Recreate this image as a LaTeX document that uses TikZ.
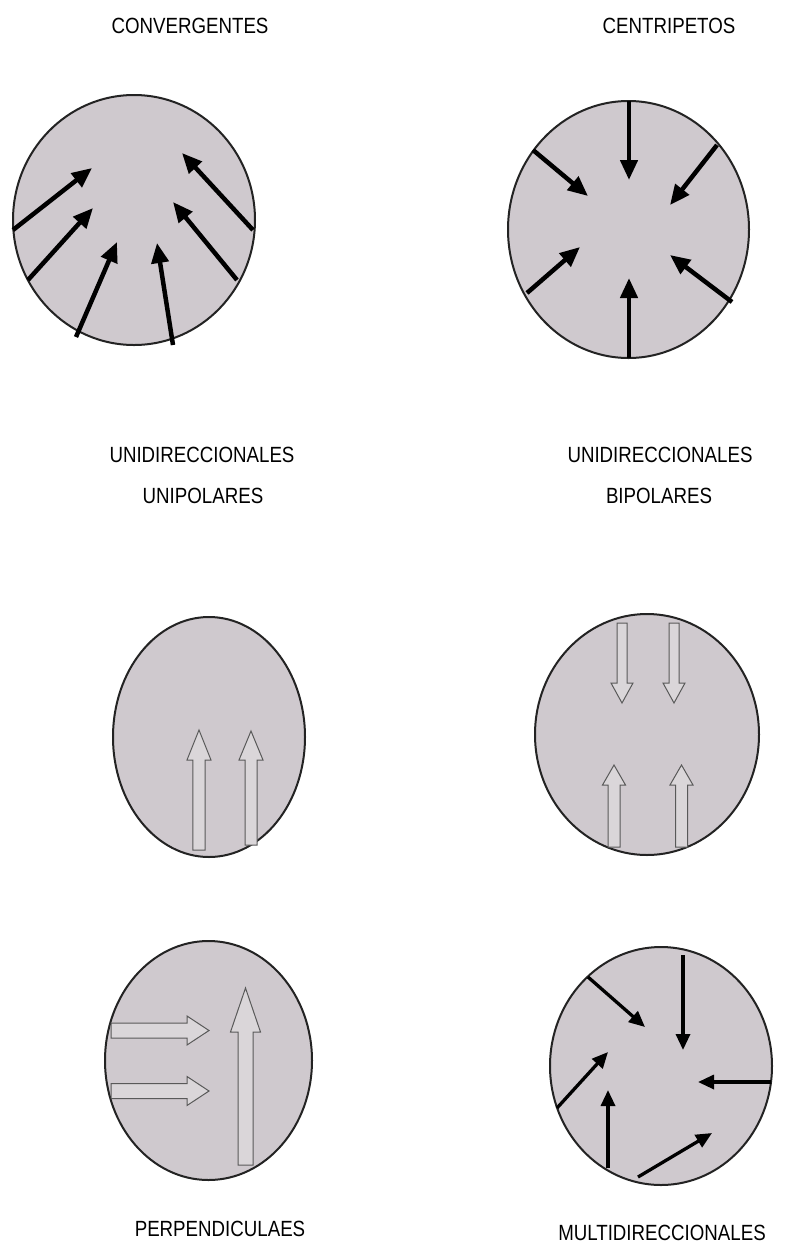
\documentclass[tikz,border=0pt]{standalone}
\usepackage{fontspec}
\setmainfont{Liberation Sans}[FakeStretch=0.85]
\usetikzlibrary{arrows.meta}
\definecolor{disc}{RGB}{207,201,206}
\definecolor{hollowfill}{RGB}{218,214,217}
\definecolor{rimgray}{RGB}{35,35,35}
\tikzset{
  disc/.style={fill=disc,draw=rimgray,line width=2pt},
  bold/.style={line width=4.5pt,-{Triangle[length=20pt,width=17pt]}},
  thinbold/.style={line width=3.3pt,-{Triangle[length=16pt,width=14pt]}},
  hollow/.style={fill=hollowfill,draw=black!65,line width=1pt,line join=miter},
  lbl/.style={anchor=base,inner sep=0pt,font=\fontsize{22}{26}\selectfont}
}
% hollow arrow: x y angle length shaft-halfwidth head-halfwidth head-length
\newcommand\harrow[7]{\draw[hollow,shift={(#1,#2)},rotate=#3]
  (0,-#5) -- (#4-#7,-#5) -- (#4-#7,-#6) -- (#4,0) -- (#4-#7,#6) -- (#4-#7,#5) -- (0,#5) -- cycle;}
\begin{document}
\begin{tikzpicture}[x=1pt,y=-1pt]
\useasboundingbox[fill=white] (0,0) rectangle (795,1251);

% labels
\node[lbl] (l1) at (190,33) {CONVERGENTES};
\node[lbl] (l2) at (669,33) {CENTRIPETOS};
\node[lbl] (l3) at (202,462) {UNIDIRECCIONALES};
\node[lbl] (l4) at (203,503) {UNIPOLARES};
\node[lbl] (l5) at (660,462) {UNIDIRECCIONALES};
\node[lbl] (l6) at (659,503) {BIPOLARES};
\node[lbl] (l7) at (220,1236) {PERPENDICULAES};
\node[lbl] (l8) at (662,1240) {MULTIDIRECCIONALES};

% circle 1: convergentes
\draw[disc] (134,220) ellipse [x radius=121, y radius=125];
\draw[bold] (13,230) -- (92,168);
\draw[bold] (28,280) -- (93,208);
\draw[bold] (76,337) -- (117,242);
\draw[bold] (173,345) -- (157,243);
\draw[bold] (237,280) -- (173,202);
\draw[bold] (253,230) -- (182,153);

% circle 2: centripetos
\draw[disc] (628.5,229.5) ellipse [x radius=120.5, y radius=128.5];
\draw[bold] (629,101) -- (629,180);
\draw[bold] (533,150) -- (588,196);
\draw[bold] (717,145) -- (670,205);
\draw[bold] (527,293) -- (580,247);
\draw[bold] (629,358) -- (629,278);
\draw[bold] (732,302) -- (670,255);

% circle 3: unipolares
\draw[disc] (209,737) ellipse [x radius=96, y radius=120];
\harrow{199}{850}{90}{120}{6.2}{12}{30}
\harrow{251}{845}{90}{114}{6}{12}{29}

% circle 4: bipolares
\draw[disc] (647,734.5) ellipse [x radius=112, y radius=120.5];
\harrow{622}{623}{-90}{80}{5}{11}{20}
\harrow{674}{623}{-90}{80}{5}{11}{20}
\harrow{614}{847}{90}{82}{6}{11.5}{20}
\harrow{681.5}{847}{90}{82}{6}{11.5}{20}

% circle 5: perpendiculares
\draw[disc] (208.5,1060.5) ellipse [x radius=103.5, y radius=119.5];
\harrow{111}{1030.5}{0}{98}{7.5}{14.5}{22}
\harrow{111}{1091}{0}{98}{7.5}{14.5}{22}
\harrow{245.5}{1165}{90}{177}{7.5}{15}{44}

% circle 6: multidireccionales
\draw[disc] (661,1066) ellipse [x radius=111, y radius=119];
\draw[thinbold] (588,977) -- (645,1027);
\draw[thinbold] (683,955) -- (683,1050);
\draw[thinbold] (771,1082) -- (698,1082);
\draw[thinbold] (557,1108) -- (608,1052);
\draw[thinbold] (608,1168) -- (608,1090);
\draw[thinbold] (638,1177) -- (712,1133);
\end{tikzpicture}
\end{document}
